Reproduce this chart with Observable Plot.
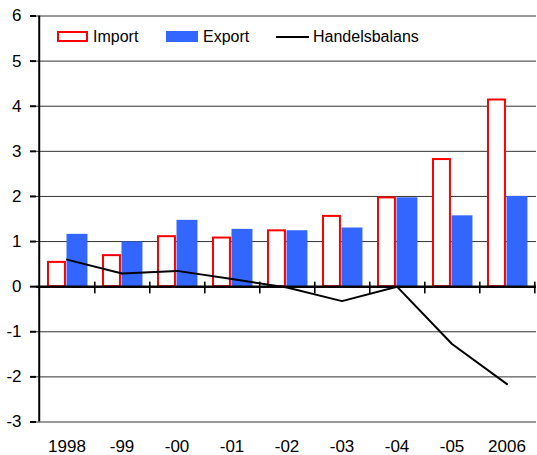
<!DOCTYPE html>
<html>
<head>
<meta charset="utf-8">
<script src="https://cdn.jsdelivr.net/npm/d3@7"></script>
<script src="https://cdn.jsdelivr.net/npm/@observablehq/plot@0.6"></script>
<style>
  body { margin: 0; background: #fff; font-family: "Liberation Sans", Arial, sans-serif; }
  #wrap { position: relative; width: 537px; height: 455px; }
  .leg { position: absolute; font-size: 16px; color: #000; line-height: 1; }
</style>
</head>
<body>
<div id="wrap"></div>
<script>
const years = ["1998", "-99", "-00", "-01", "-02", "-03", "-04", "-05", "2006"];
const importVals = [0.56, 0.71, 1.13, 1.10, 1.26, 1.58, 1.99, 2.84, 4.16];
const exportVals = [1.16, 0.99, 1.47, 1.27, 1.24, 1.30, 1.97, 1.57, 2.00];
const balanceVals = [0.60, 0.29, 0.35, 0.17, -0.02, -0.32, 0.00, -1.27, -2.16];
const yTicks = [-3, -2, -1, 0, 1, 2, 3, 4, 5, 6];
const legendLabels = ["Import", "Export", "Handelsbalans"];

const rows = years.map((y, i) => ({year: y, imp: importVals[i], exp: exportVals[i], bal: balanceVals[i]}));

const W = 537, H = 455, mL = 36, mR = 1, mT = 15.5, mB = 33.5;
const bw = (W - mL - mR) / years.length;

const chart = Plot.plot({
  width: W, height: H,
  marginLeft: mL, marginRight: mR, marginTop: mT, marginBottom: mB,
  style: {fontFamily: "'Liberation Sans', Arial, sans-serif", background: "#fff"},
  x: {type: "band", domain: years, padding: 0, axis: null},
  y: {domain: [-3, 6], axis: null},
  marks: [
    Plot.ruleY(yTicks, {stroke: "#333", strokeWidth: 1}),
    Plot.barY(rows, {x: "year", y: "imp", fill: "#fff", stroke: "#ff0000", strokeWidth: 2,
      insetLeft: 9, insetRight: bw - 26.5, insetTop: 1}),
    Plot.barY(rows, {x: "year", y: "exp", fill: "#3366ff",
      insetLeft: 27.5, insetRight: bw - 49}),
    Plot.ruleY([0], {stroke: "#000", strokeWidth: 2.5}),
    Plot.ruleX(years, {x: d => d, dx: bw / 2, y1: 0.1, y2: -0.16, stroke: "#000", strokeWidth: 1.6}),
    Plot.line(rows, {x: "year", y: "bal", stroke: "#000", strokeWidth: 2}),
    Plot.ruleX([years[0]], {x: d => d, dx: -bw / 2, y1: -3, y2: 6, stroke: "#000", strokeWidth: 2}),
    Plot.axisY({ticks: yTicks, tickFormat: d => String(d), tickSize: 6, tickPadding: 9, label: null,
      fontSize: 17, stroke: "#000", strokeWidth: 2, color: "#000"}),
    Plot.axisX({tickSize: 0, tickPadding: 17.5, fontSize: 17, color: "#000", label: null})
  ]
});

const wrap = document.getElementById("wrap");
wrap.appendChild(chart);

// Legend overlay inside the plot area
function box(x, y, w, h, css) {
  const d = document.createElement("div");
  d.style.cssText = `position:absolute;left:${x}px;top:${y}px;width:${w}px;height:${h}px;box-sizing:border-box;${css}`;
  wrap.appendChild(d);
}
function label(x, text) {
  const s = document.createElement("div");
  s.className = "leg";
  s.style.left = x + "px";
  s.style.top = "29px";
  s.textContent = text;
  wrap.appendChild(s);
}
box(57, 31, 31, 11, "border:2px solid #ff0000;background:#fff;");
label(93, legendLabels[0]);
box(166, 31, 32, 11, "background:#3366ff;");
label(203, legendLabels[1]);
box(276, 36, 33, 2, "background:#000;");
label(313, legendLabels[2]);
</script>
</body>
</html>
